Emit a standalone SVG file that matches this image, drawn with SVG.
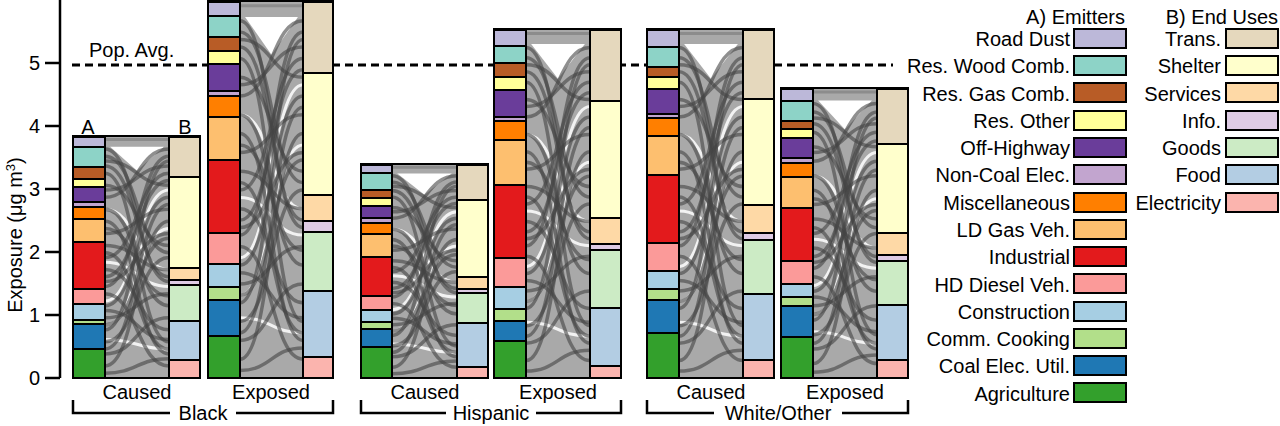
<svg xmlns="http://www.w3.org/2000/svg" xmlns:xlink="http://www.w3.org/1999/xlink" width="1280" height="426" viewBox="0 0 1280 426">
<style>
text{font-family:"Liberation Sans",Arial,sans-serif;font-size:20px;fill:#000}
.s rect, rect.s{stroke:#000;stroke-width:2}
.fr{fill:none;stroke:#000;stroke-width:2.5}
.ax{stroke:#000;stroke-width:2.5;fill:none}
.rd{fill:#bcb8d9}.wd{fill:#8dd3c7}.rg{fill:#b85c26}.ro{fill:#ffff99}.oh{fill:#6a3d9a}.nc{fill:#c2a5cf}.mi{fill:#ff7f00}.ld{fill:#fdbf6f}.in{fill:#e31a1c}.hd{fill:#fb9a99}.co{fill:#a6cee3}.cc{fill:#b2df8a}.ce{fill:#1f78b4}.ag{fill:#33a02c}
.tr{fill:#e5d8bd}.sh{fill:#ffffcc}.sv{fill:#fed9a6}.if{fill:#decbe4}.gd{fill:#ccebc5}.fd{fill:#b3cde3}.el{fill:#fbb4ae}
.dk{fill:none;stroke:#444;stroke-opacity:.6;stroke-width:3.5}
.wh{fill:none;stroke:#fff;stroke-opacity:.85;stroke-width:3}
</style>
<defs>
<g id="flows">
<rect x="0" y="0" width="100" height="100" fill="#a9a9a9"/>
<path d="M0,1 L100,1" stroke="#8c8c8c" stroke-width="3" vector-effect="non-scaling-stroke"/>
<path d="M8,4 L92,4 L50,14 Z" fill="#fff"/>
<g class="wh">
<path vector-effect="non-scaling-stroke" d="M0,78 C50,78 50,38 100,38"/>
<path vector-effect="non-scaling-stroke" d="M0,52 C50,52 50,62 100,62"/>
<path vector-effect="non-scaling-stroke" d="M0,84 C50,84 50,88 100,88"/>
<path vector-effect="non-scaling-stroke" d="M0,30 C50,30 50,55 100,55"/>
<path vector-effect="non-scaling-stroke" d="M0,68 C50,68 50,22 100,22"/>
</g>
<g class="dk">
<path vector-effect="non-scaling-stroke" d="M0,5 C50,5 50,60 100,60"/>
<path vector-effect="non-scaling-stroke" d="M0,10 C50,10 50,20 100,20"/>
<path vector-effect="non-scaling-stroke" d="M0,15 C50,15 50,85 100,85"/>
<path vector-effect="non-scaling-stroke" d="M0,20 C50,20 50,45 100,45"/>
<path vector-effect="non-scaling-stroke" d="M0,25 C50,25 50,5 100,5"/>
<path vector-effect="non-scaling-stroke" d="M0,30 C50,30 50,70 100,70"/>
<path vector-effect="non-scaling-stroke" d="M0,35 C50,35 50,90 100,90"/>
<path vector-effect="non-scaling-stroke" d="M0,40 C50,40 50,30 100,30"/>
<path vector-effect="non-scaling-stroke" d="M0,45 C50,45 50,55 100,55"/>
<path vector-effect="non-scaling-stroke" d="M0,50 C50,50 50,15 100,15"/>
<path vector-effect="non-scaling-stroke" d="M0,55 C50,55 50,80 100,80"/>
<path vector-effect="non-scaling-stroke" d="M0,60 C50,60 50,40 100,40"/>
<path vector-effect="non-scaling-stroke" d="M0,65 C50,65 50,95 100,95"/>
<path vector-effect="non-scaling-stroke" d="M0,70 C50,70 50,25 100,25"/>
<path vector-effect="non-scaling-stroke" d="M0,75 C50,75 50,65 100,65"/>
<path vector-effect="non-scaling-stroke" d="M0,80 C50,80 50,10 100,10"/>
<path vector-effect="non-scaling-stroke" d="M0,85 C50,85 50,50 100,50"/>
<path vector-effect="non-scaling-stroke" d="M0,90 C50,90 50,75 100,75"/>
<path vector-effect="non-scaling-stroke" d="M0,95 C50,95 50,35 100,35"/>
<path vector-effect="non-scaling-stroke" d="M0,12 C50,12 50,58 100,58"/>
<path vector-effect="non-scaling-stroke" d="M0,48 C50,48 50,88 100,88"/>
<path vector-effect="non-scaling-stroke" d="M0,62 C50,62 50,8 100,8"/>
<path vector-effect="non-scaling-stroke" d="M0,78 C50,78 50,42 100,42"/>
<path vector-effect="non-scaling-stroke" d="M0,88 C50,88 50,28 100,28"/>
<path vector-effect="non-scaling-stroke" d="M0,98 C50,98 50,92 100,92"/>
<path vector-effect="non-scaling-stroke" d="M0,22 C50,22 50,12 100,12"/>
<path vector-effect="non-scaling-stroke" d="M0,38 C50,38 50,66 100,66"/>
<path vector-effect="non-scaling-stroke" d="M0,8 C50,8 50,48 100,48"/>
<path vector-effect="non-scaling-stroke" d="M0,58 C50,58 50,18 100,18"/>
<path vector-effect="non-scaling-stroke" d="M0,72 C50,72 50,84 100,84"/>
</g>
</g>
</defs>

<g id="axis">
<path class="ax" d="M60,0 V378 M45,378 H60 M45,315 H60 M45,252 H60 M45,189 H60 M45,126 H60 M45,63 H60"/>
<g text-anchor="end">
<text x="40" y="385">0</text><text x="40" y="322">1</text><text x="40" y="259">2</text><text x="40" y="196">3</text><text x="40" y="133">4</text><text x="40" y="70">5</text>
</g>
<text transform="translate(22,235) rotate(-90)" text-anchor="middle">Exposure (μg m<tspan dy="-7" font-size="13">3</tspan><tspan dy="7">)</tspan></text>
</g>

<g id="popavg">
<path d="M72,65 H893" stroke="#000" stroke-width="3" stroke-dasharray="8,5"/>
<text x="89" y="57">Pop. Avg.</text>
</g>

<g id="connectors">
<use href="#flows" transform="translate(105,137) scale(0.64,2.41)"/>
<use href="#flows" transform="translate(240,2) scale(0.63,3.76)"/>
<use href="#flows" transform="translate(392,165) scale(0.65,2.13)"/>
<use href="#flows" transform="translate(526,30) scale(0.64,3.48)"/>
<use href="#flows" transform="translate(679,30) scale(0.64,3.48)"/>
<use href="#flows" transform="translate(813,89) scale(0.64,2.89)"/>
</g>

<g id="black-caused" class="s">
<rect class="ag" x="73" y="349" width="32" height="29"/><rect class="ce" x="73" y="324" width="32" height="25"/><rect class="cc" x="73" y="320" width="32" height="4"/><rect class="co" x="73" y="304" width="32" height="16"/><rect class="hd" x="73" y="289" width="32" height="15"/><rect class="in" x="73" y="242" width="32" height="47"/><rect class="ld" x="73" y="219" width="32" height="23"/><rect class="mi" x="73" y="207" width="32" height="12"/><rect class="nc" x="73" y="202" width="32" height="5"/><rect class="oh" x="73" y="187" width="32" height="15"/><rect class="ro" x="73" y="179" width="32" height="8"/><rect class="rg" x="73" y="167" width="32" height="12"/><rect class="wd" x="73" y="147" width="32" height="20"/><rect class="rd" x="73" y="137" width="32" height="10"/>
<rect class="el" x="169" y="360" width="31" height="18"/><rect class="fd" x="169" y="321" width="31" height="39"/><rect class="gd" x="169" y="285" width="31" height="36"/><rect class="if" x="169" y="280" width="31" height="5"/><rect class="sv" x="169" y="268" width="31" height="12"/><rect class="sh" x="169" y="177" width="31" height="91"/><rect class="tr" x="169" y="137" width="31" height="40"/>
<rect class="fr" x="73" y="136" width="127" height="242"/>
<text x="88" y="134" text-anchor="middle" stroke="none">A</text><text x="185" y="134" text-anchor="middle" stroke="none">B</text>
</g>

<g id="black-exposed" class="s">
<rect class="ag" x="208" y="336" width="32" height="42"/><rect class="ce" x="208" y="300" width="32" height="36"/><rect class="cc" x="208" y="287" width="32" height="13"/><rect class="co" x="208" y="264" width="32" height="23"/><rect class="hd" x="208" y="233" width="32" height="31"/><rect class="in" x="208" y="160" width="32" height="73"/><rect class="ld" x="208" y="117" width="32" height="43"/><rect class="mi" x="208" y="96" width="32" height="21"/><rect class="nc" x="208" y="91" width="32" height="5"/><rect class="oh" x="208" y="64" width="32" height="27"/><rect class="ro" x="208" y="51" width="32" height="13"/><rect class="rg" x="208" y="37" width="32" height="14"/><rect class="wd" x="208" y="16" width="32" height="21"/><rect class="rd" x="208" y="2" width="32" height="14"/>
<rect class="el" x="303" y="357" width="30" height="21"/><rect class="fd" x="303" y="291" width="30" height="66"/><rect class="gd" x="303" y="232" width="30" height="59"/><rect class="if" x="303" y="221" width="30" height="11"/><rect class="sv" x="303" y="195" width="30" height="26"/><rect class="sh" x="303" y="73" width="30" height="122"/><rect class="tr" x="303" y="2" width="30" height="71"/>
<rect class="fr" x="208" y="1" width="125" height="377"/>
</g>

<g id="hispanic-caused" class="s">
<rect class="ag" x="361" y="347" width="31" height="31"/><rect class="ce" x="361" y="329" width="31" height="18"/><rect class="cc" x="361" y="322" width="31" height="7"/><rect class="co" x="361" y="310" width="31" height="12"/><rect class="hd" x="361" y="296" width="31" height="14"/><rect class="in" x="361" y="257" width="31" height="39"/><rect class="ld" x="361" y="234" width="31" height="23"/><rect class="mi" x="361" y="223" width="31" height="11"/><rect class="nc" x="361" y="218" width="31" height="5"/><rect class="oh" x="361" y="206" width="31" height="12"/><rect class="ro" x="361" y="198" width="31" height="8"/><rect class="rg" x="361" y="190" width="31" height="8"/><rect class="wd" x="361" y="173" width="31" height="17"/><rect class="rd" x="361" y="165" width="31" height="8"/>
<rect class="el" x="457" y="367" width="31" height="11"/><rect class="fd" x="457" y="323" width="31" height="44"/><rect class="gd" x="457" y="293" width="31" height="30"/><rect class="if" x="457" y="289" width="31" height="4"/><rect class="sv" x="457" y="277" width="31" height="12"/><rect class="sh" x="457" y="200" width="31" height="77"/><rect class="tr" x="457" y="165" width="31" height="35"/>
<rect class="fr" x="361" y="164" width="127" height="214"/>
</g>

<g id="hispanic-exposed" class="s">
<rect class="ag" x="494" y="341" width="32" height="37"/><rect class="ce" x="494" y="321" width="32" height="20"/><rect class="cc" x="494" y="309" width="32" height="12"/><rect class="co" x="494" y="287" width="32" height="22"/><rect class="hd" x="494" y="258" width="32" height="29"/><rect class="in" x="494" y="185" width="32" height="73"/><rect class="ld" x="494" y="140" width="32" height="45"/><rect class="mi" x="494" y="121" width="32" height="19"/><rect class="nc" x="494" y="117" width="32" height="4"/><rect class="oh" x="494" y="90" width="32" height="27"/><rect class="ro" x="494" y="77" width="32" height="13"/><rect class="rg" x="494" y="63" width="32" height="14"/><rect class="wd" x="494" y="46" width="32" height="17"/><rect class="rd" x="494" y="30" width="32" height="16"/>
<rect class="el" x="590" y="366" width="31" height="12"/><rect class="fd" x="590" y="308" width="31" height="58"/><rect class="gd" x="590" y="250" width="31" height="58"/><rect class="if" x="590" y="244" width="31" height="6"/><rect class="sv" x="590" y="218" width="31" height="26"/><rect class="sh" x="590" y="101" width="31" height="117"/><rect class="tr" x="590" y="30" width="31" height="71"/>
<rect class="fr" x="494" y="29" width="127" height="349"/>
</g>

<g id="white-caused" class="s">
<rect class="ag" x="647" y="333" width="32" height="45"/><rect class="ce" x="647" y="300" width="32" height="33"/><rect class="cc" x="647" y="289" width="32" height="11"/><rect class="co" x="647" y="271" width="32" height="18"/><rect class="hd" x="647" y="243" width="32" height="28"/><rect class="in" x="647" y="175" width="32" height="68"/><rect class="ld" x="647" y="136" width="32" height="39"/><rect class="mi" x="647" y="118" width="32" height="18"/><rect class="nc" x="647" y="114" width="32" height="4"/><rect class="oh" x="647" y="89" width="32" height="25"/><rect class="ro" x="647" y="77" width="32" height="12"/><rect class="rg" x="647" y="67" width="32" height="10"/><rect class="wd" x="647" y="47" width="32" height="20"/><rect class="rd" x="647" y="30" width="32" height="17"/>
<rect class="el" x="743" y="360" width="31" height="18"/><rect class="fd" x="743" y="294" width="31" height="66"/><rect class="gd" x="743" y="240" width="31" height="54"/><rect class="if" x="743" y="233" width="31" height="7"/><rect class="sv" x="743" y="205" width="31" height="28"/><rect class="sh" x="743" y="99" width="31" height="106"/><rect class="tr" x="743" y="30" width="31" height="69"/>
<rect class="fr" x="647" y="29" width="127" height="349"/>
</g>

<g id="white-exposed" class="s">
<rect class="ag" x="781" y="337" width="32" height="41"/><rect class="ce" x="781" y="306" width="32" height="31"/><rect class="cc" x="781" y="297" width="32" height="9"/><rect class="co" x="781" y="284" width="32" height="13"/><rect class="hd" x="781" y="261" width="32" height="23"/><rect class="in" x="781" y="208" width="32" height="53"/><rect class="ld" x="781" y="177" width="32" height="31"/><rect class="mi" x="781" y="163" width="32" height="14"/><rect class="nc" x="781" y="158" width="32" height="5"/><rect class="oh" x="781" y="138" width="32" height="20"/><rect class="ro" x="781" y="129" width="32" height="9"/><rect class="rg" x="781" y="121" width="32" height="8"/><rect class="wd" x="781" y="101" width="32" height="20"/><rect class="rd" x="781" y="89" width="32" height="12"/>
<rect class="el" x="877" y="360" width="31" height="18"/><rect class="fd" x="877" y="305" width="31" height="55"/><rect class="gd" x="877" y="261" width="31" height="44"/><rect class="if" x="877" y="255" width="31" height="6"/><rect class="sv" x="877" y="233" width="31" height="22"/><rect class="sh" x="877" y="144" width="31" height="89"/><rect class="tr" x="877" y="89" width="31" height="55"/>
<rect class="fr" x="781" y="88" width="127" height="290"/>
</g>

<g id="labels" text-anchor="middle">
<text x="137" y="399">Caused</text><text x="271" y="399">Exposed</text>
<text x="425" y="399">Caused</text><text x="558" y="399">Exposed</text>
<text x="711" y="399">Caused</text><text x="845" y="399">Exposed</text>
<path class="ax" d="M73,400 V413 H170 M236,413 H333 V400"/>
<text x="203" y="420">Black</text>
<path class="ax" d="M361,400 V413 H446 M536,413 H621 V400"/>
<text x="491" y="420">Hispanic</text>
<path class="ax" d="M647,400 V413 H714 M842,413 H908 V400"/>
<text x="778" y="420">White/Other</text>
</g>

<g id="legend-emitters">
<text x="1125" y="24" text-anchor="end">A) Emitters</text>
<g text-anchor="end">
<text x="1070" y="46">Road Dust</text><text x="1070" y="73">Res. Wood Comb.</text><text x="1070" y="101">Res. Gas Comb.</text><text x="1070" y="128">Res. Other</text><text x="1070" y="155">Off-Highway</text><text x="1070" y="182">Non-Coal Elec.</text><text x="1070" y="210">Miscellaneous</text><text x="1070" y="237">LD Gas Veh.</text><text x="1070" y="264">Industrial</text><text x="1070" y="292">HD Diesel Veh.</text><text x="1070" y="319">Construction</text><text x="1070" y="346">Comm. Cooking</text><text x="1070" y="373">Coal Elec. Util.</text><text x="1070" y="401">Agriculture</text>
</g>
<g class="s">
<rect class="rd" x="1074" y="29" width="52" height="19"/><rect class="wd" x="1074" y="56" width="52" height="19"/><rect class="rg" x="1074" y="83" width="52" height="19"/><rect class="ro" x="1074" y="111" width="52" height="19"/><rect class="oh" x="1074" y="138" width="52" height="19"/><rect class="nc" x="1074" y="165" width="52" height="19"/><rect class="mi" x="1074" y="193" width="52" height="19"/><rect class="ld" x="1074" y="220" width="52" height="19"/><rect class="in" x="1074" y="247" width="52" height="19"/><rect class="hd" x="1074" y="274" width="52" height="19"/><rect class="co" x="1074" y="302" width="52" height="19"/><rect class="cc" x="1074" y="329" width="52" height="19"/><rect class="ce" x="1074" y="356" width="52" height="19"/><rect class="ag" x="1074" y="383" width="52" height="19"/>
</g>
</g>
<g id="legend-enduses">
<text x="1278" y="24" text-anchor="end">B) End Uses</text>
<g text-anchor="end">
<text x="1221" y="46">Trans.</text><text x="1221" y="73">Shelter</text><text x="1221" y="101">Services</text><text x="1221" y="128">Info.</text><text x="1221" y="155">Goods</text><text x="1221" y="182">Food</text><text x="1221" y="210">Electricity</text>
</g>
<g class="s">
<rect class="tr" x="1226" y="29" width="52" height="19"/><rect class="sh" x="1226" y="56" width="52" height="19"/><rect class="sv" x="1226" y="83" width="52" height="19"/><rect class="if" x="1226" y="111" width="52" height="19"/><rect class="gd" x="1226" y="138" width="52" height="19"/><rect class="fd" x="1226" y="165" width="52" height="19"/><rect class="el" x="1226" y="193" width="52" height="19"/>
</g>
</g>
</svg>
